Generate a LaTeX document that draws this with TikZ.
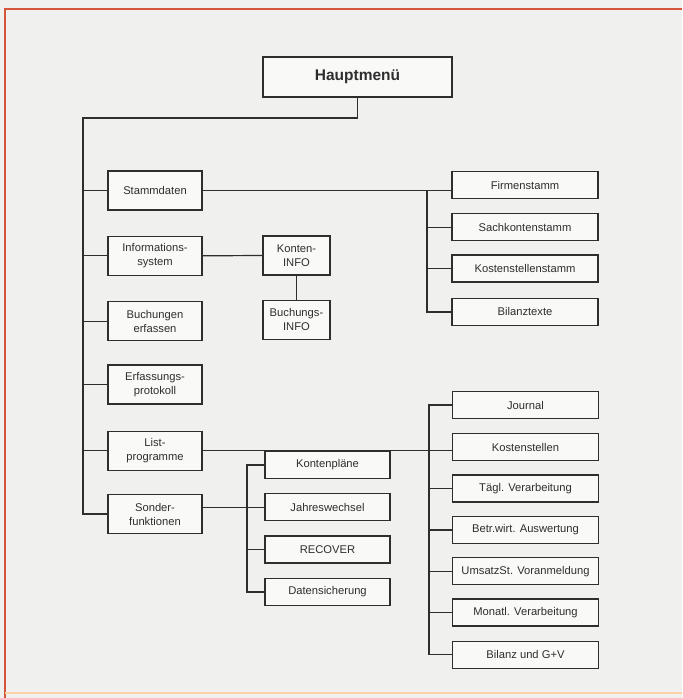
\documentclass[tikz,border=0pt]{standalone}
\usepackage{fontspec}
\setmainfont{Liberation Sans}
\usepackage{tikz}
\usetikzlibrary{positioning}
\definecolor{frm}{HTML}{D4553A}
\definecolor{pap}{HTML}{F0F0EE}
\definecolor{ink}{HTML}{2E2E2E}

\begin{document}
\begin{tikzpicture}[x=1pt, y=1pt,
  box/.style={draw=ink, line width=1.3pt, fill=white!60!pap, align=center,
    inner sep=1pt, font=\fontsize{11.2}{14}\selectfont, text=ink},
  mbox/.style={box, minimum width=94pt, minimum height=39pt},
  sbox/.style={box, minimum width=146pt, minimum height=27pt},
  ln/.style={draw=ink, line width=1.2pt}]
% paper and frame
\fill[pap] (0,0) rectangle (682,-698);
\useasboundingbox (0,0) rectangle (682,-698);
\draw[frm, line width=2.2pt] (682,-9) -- (5,-9) -- (5,-698);
\draw[orange!35, line width=2pt] (5,-693) -- (682,-693);
% main menu
\node[box, minimum width=189pt, minimum height=40pt, font=\fontsize{15.5}{18}\bfseries] (haupt) at (357.5,-77) {Hauptmenü};
% left column
\node[mbox] (stamm) at (155,-190.5) {Stammdaten};
\node[mbox, below=25pt of stamm] (info) {Informations-\\system};
\node[mbox, below=25pt of info] (buch) {Buchungen\\erfassen};
\node[mbox, below=23pt of buch] (erf) {Erfassungs-\\protokoll};
\node[mbox, below=26pt of erf] (list) {List-\\programme};
\node[mbox, below=23pt of list] (sonder) {Sonder-\\funktionen};
% info submenu
\node[box, minimum width=67pt, minimum height=39pt] (kinfo) at (296.5,-255.5) {Konten-\\INFO};
\node[box, minimum width=67pt, minimum height=39pt, below=24pt of kinfo] (binfo) {Buchungs-\\INFO};
% Stammdaten submenu
\node[sbox] (firm) at (525,-185) {Firmenstamm};
\node[sbox, below=14pt of firm] (sach) {Sachkontenstamm};
\node[sbox, below=13pt of sach] (kost) {Kostenstellenstamm};
\node[sbox, below=15pt of kost] (bil) {Bilanztexte};
% Listprogramme submenu
\node[sbox] (journal) at (525.5,-405) {Journal};
\node[sbox, below=14pt of journal] (kst) {Kostenstellen};
\node[sbox, below=13pt of kst] (taegl) {Tägl. Verarbeitung};
\node[sbox, below=13pt of taegl] (betr) {Betr.wirt. Auswertung};
\node[sbox, below=13pt of betr] (ust) {UmsatzSt. Voranmeldung};
\node[sbox, below=13pt of ust] (monatl) {Monatl. Verarbeitung};
\node[sbox, below=14pt of monatl] (bguv) {Bilanz und G+V};
% Sonderfunktionen submenu
\node[box, minimum width=125pt, minimum height=27pt] (kplan) at (327.5,-465) {Kontenpläne};
\node[box, minimum width=125pt, minimum height=27pt, below=14pt of kplan] (jahr) {Jahreswechsel};
\node[box, minimum width=125pt, minimum height=27pt, below=14pt of jahr] (recover) {RECOVER};
\node[box, minimum width=125pt, minimum height=27pt, below=14pt of recover] (dsich) {Datensicherung};
% bus lines
\coordinate (trunk) at (83,-118);
\coordinate (sbus) at (427,0);
\coordinate (lbus) at (429,0);
\coordinate (kbus) at (247,0);
\draw[ln] (haupt.south) |- (trunk) -- (trunk |- sonder.west) -- (sonder.west);
\foreach \n in {stamm,info,buch,erf,list}
  \draw[ln] (trunk |- \n.west) -- (\n.west);
\draw[ln] (stamm.east) -- (stamm.east -| firm.west);
\draw[ln] (sbus |- stamm.east) -- (sbus |- bil.west) -- (bil.west);
\foreach \n in {sach,kost}
  \draw[ln] (sbus |- \n.west) -- (\n.west);
\draw[ln] (info.east) -- (kinfo.west);
\draw[ln] (kinfo) -- (binfo);
\draw[ln] (list.east) -- (list.east -| kst.west);
\draw[ln] (journal.west) -| (lbus |- bguv.west) -- (bguv.west);
\foreach \n in {taegl,betr,ust,monatl}
  \draw[ln] (lbus |- \n.west) -- (\n.west);
\draw[ln] (sonder.east |- jahr.west) -- (jahr.west);
\draw[ln] (kplan.west) -| (kbus |- dsich.west) -- (dsich.west);
\draw[ln] (kbus |- recover.west) -- (recover.west);
\end{tikzpicture}
\end{document}
